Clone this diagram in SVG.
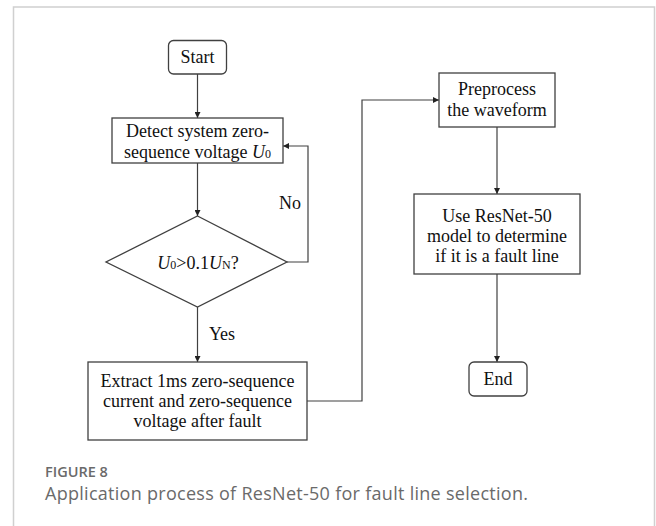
<svg xmlns="http://www.w3.org/2000/svg" width="656" height="526" viewBox="0 0 656 526">
<style>
.box{fill:#fff;stroke:#404040;stroke-width:1.3}
.t{font-family:"Liberation Serif","Times New Roman",serif;font-size:18px;fill:#111;text-anchor:middle}
.c{fill:none;stroke:#404040;stroke-width:1.2}
.cap1{font-family:"Open Sans","Noto Sans",sans-serif;font-size:14.5px;font-weight:600;fill:#6a6a6a}
.cap2{font-family:"Open Sans","Noto Sans",sans-serif;font-size:18px;fill:#6a6a6a}
</style>
<defs>
<marker id="ah" viewBox="0 0 8 8" refX="8" refY="4" markerWidth="6" markerHeight="6" markerUnits="userSpaceOnUse" orient="auto">
<path d="M0,0 L8,4 L0,8 z" fill="#222"/>
</marker>
</defs>
<rect x="0" y="0" width="656" height="526" fill="#fff"/>
<path d="M13.5,530 V7 H654.5 V530" fill="none" stroke="#d0d0d0" stroke-width="1.5"/>

<g id="connectors">
<path class="c" d="M197.5,74 V118" marker-end="url(#ah)"/>
<path class="c" d="M197.5,163 V216" marker-end="url(#ah)"/>
<path class="c" d="M287,262 H308 V146 H283" marker-end="url(#ah)"/>
<path class="c" d="M197.5,307 V362" marker-end="url(#ah)"/>
<path class="c" d="M307,401 H362 V100 H439" marker-end="url(#ah)"/>
<path class="c" d="M497,127 V194" marker-end="url(#ah)"/>
<path class="c" d="M497,274 V362" marker-end="url(#ah)"/>
<text class="t" x="290" y="209">No</text>
<text class="t" x="222" y="340">Yes</text>
</g>

<g id="start">
<rect class="box" x="168.5" y="40.5" width="58" height="33.5" rx="5"/>
<text class="t" x="197.5" y="63">Start</text>
</g>

<g id="detect">
<rect class="box" x="112" y="118" width="171" height="45"/>
<text class="t" x="197.5" y="137">Detect system zero-</text>
<text class="t" x="197.5" y="158">sequence voltage <tspan font-style="italic">U</tspan><tspan font-size="12">0</tspan></text>
</g>

<g id="decision">
<polygon class="box" points="197.5,216 287,262 197.5,307 106,262"/>
<text class="t" x="198" y="269"><tspan font-style="italic">U</tspan><tspan font-size="12">0</tspan>&gt;0.1<tspan font-style="italic">U</tspan><tspan font-size="12">N</tspan>?</text>
</g>

<g id="extract">
<rect class="box" x="88" y="362" width="219" height="78"/>
<text class="t" x="197.5" y="387">Extract 1ms zero-sequence</text>
<text class="t" x="197.5" y="407">current and zero-sequence</text>
<text class="t" x="197.5" y="427">voltage after fault</text>
</g>

<g id="preprocess">
<rect class="box" x="439" y="73" width="116" height="54"/>
<text class="t" x="497" y="95">Preprocess</text>
<text class="t" x="497" y="116">the waveform</text>
</g>

<g id="resnet">
<rect class="box" x="414" y="194" width="166" height="80"/>
<text class="t" x="497" y="222">Use ResNet-50</text>
<text class="t" x="497" y="242">model to determine</text>
<text class="t" x="497" y="262">if it is a fault line</text>
</g>

<g id="end">
<rect class="box" x="469" y="362" width="58" height="34" rx="5"/>
<text class="t" x="498" y="385">End</text>
</g>

<text class="cap1" x="45" y="477">FIGURE 8</text>
<text class="cap2" x="45" y="500" textLength="483" lengthAdjust="spacing">Application process of ResNet-50 for fault line selection.</text>
</svg>
